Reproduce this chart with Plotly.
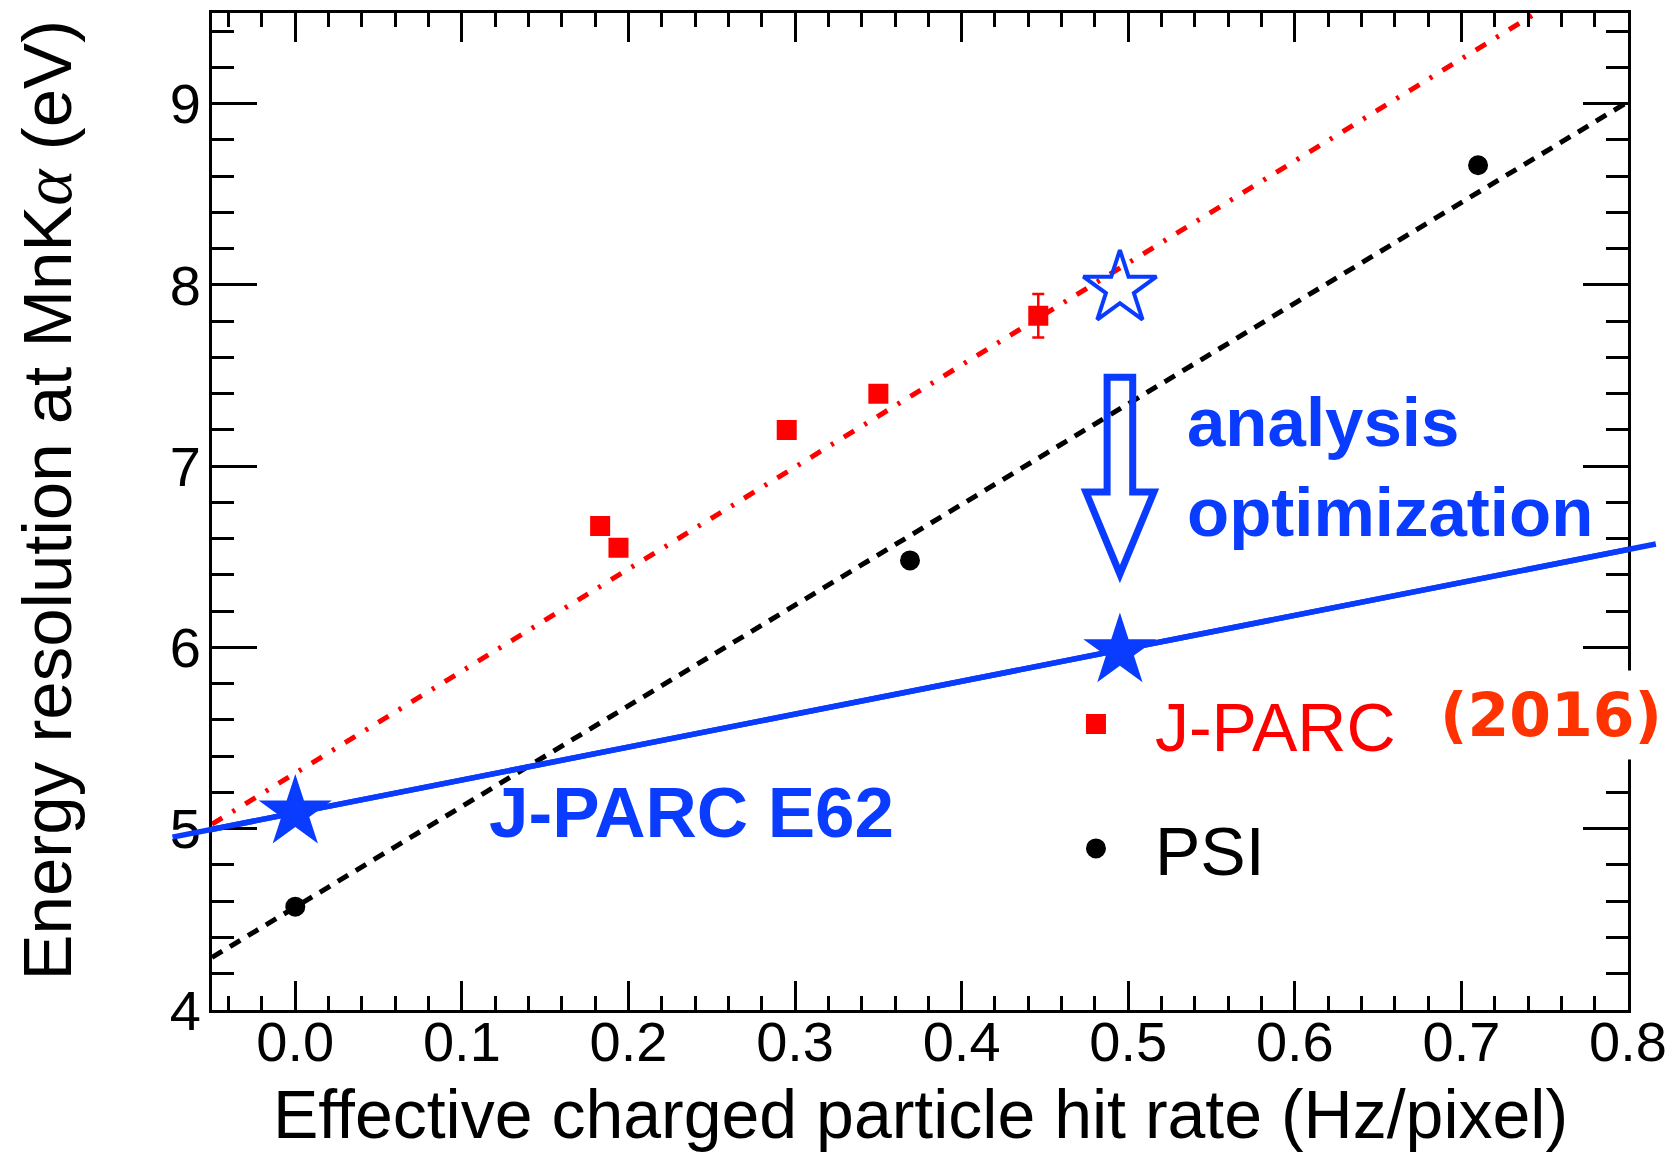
import plotly.graph_objects as go

# ---------------- data ----------------
# J-PARC (2016) measurements
jparc_x = [0.183, 0.194, 0.295, 0.350, 0.446]
jparc_y = [6.67, 6.55, 7.20, 7.40, 7.83]
jparc_err = [0.0, 0.0, 0.0, 0.0, 0.12]

# PSI measurements
psi_x = [0.0, 0.369, 0.710]
psi_y = [4.57, 6.48, 8.66]

# linear trend lines
psi_fit_x = [-0.05, 0.80]
psi_fit_y = [4.29, 9.01]
jparc_fit_x = [-0.05, 0.80]
jparc_fit_y = [5.025, 9.81]
e62_fit_x = [-0.074, 0.30, 0.817]
e62_fit_y = [4.953, 5.632, 6.571]

# J-PARC E62 expectations (stars)
e62_x = [0.0, 0.495]
e62_y = [5.09, 5.98]
before_x = [0.495]
before_y = [7.98]

# "analysis optimization" arrow: x position, top / head start / tip (y)
arrow_x = 0.495
arrow_y = [7.491, 6.857, 6.405]

# axes
x_range = [-0.05, 0.8]
y_range = [4.0, 9.5]
x_tick_vals = [0.0, 0.1, 0.2, 0.3, 0.4, 0.5, 0.6, 0.7, 0.8]
x_tick_text = ["0.0", "0.1", "0.2", "0.3", "0.4", "0.5", "0.6", "0.7", "0.8"]
y_tick_vals = [4, 5, 6, 7, 8, 9]
y_tick_text = ["4", "5", "6", "7", "8", "9"]
x_minor_vals = [round(-0.04 + 0.02 * i, 2) for i in range(43)]
y_minor_vals = [round(4.2 + 0.2 * i, 1) for i in range(27)]

BLUE = "#0a3cff"
RED = "#ff0000"
FONT = "Liberation Sans"

fig = go.Figure()

fig.add_trace(go.Scatter(
    x=psi_fit_x, y=psi_fit_y, mode="lines",
    line=dict(color="black", width=5, dash="12px,9px"),
    showlegend=False, hoverinfo="skip"))
fig.add_trace(go.Scatter(
    x=jparc_fit_x, y=jparc_fit_y, mode="lines",
    line=dict(color=RED, width=5, dash="12px,12px,3px,12px"),
    showlegend=False, hoverinfo="skip"))
fig.add_trace(go.Scatter(
    x=e62_fit_x, y=e62_fit_y, mode="lines",
    line=dict(color=BLUE, width=5.5),
    showlegend=False, hoverinfo="skip"))

fig.add_trace(go.Scatter(
    x=jparc_x, y=jparc_y, mode="markers",
    name='<span style="color:#ff0000">J-PARC</span>',
    marker=dict(symbol="square", size=16, color=RED, line=dict(color=RED, width=4)),
    error_y=dict(type="data", array=jparc_err, color=RED, thickness=2.5, width=6),
    legendgroup="a"))
fig.add_trace(go.Scatter(
    x=psi_x, y=psi_y, mode="markers", name="PSI",
    marker=dict(symbol="circle", size=16, color="black", line=dict(color="black", width=4)),
    legendgroup="b"))

fig.add_trace(go.Scatter(
    x=e62_x, y=e62_y, mode="markers",
    marker=dict(symbol="star", size=55, color=BLUE, line=dict(width=0)),
    showlegend=False))
fig.add_trace(go.Scatter(
    x=before_x, y=before_y, mode="markers",
    marker=dict(symbol="star-open", size=55, color=BLUE, line=dict(color=BLUE, width=4)),
    showlegend=False))

# parts of the blue E62 line that run past the frame: annotation arrows
# (head inside the axis range, tail at the line's outer ends)
for k in (0, 2):
    fig.add_annotation(
        x=e62_fit_x[1], y=e62_fit_y[1], ax=e62_fit_x[k], ay=e62_fit_y[k],
        xref="x", yref="y", axref="x", ayref="y", text=" ",
        font=dict(size=1), borderpad=0,
        showarrow=True, arrowhead=0, arrowwidth=5.5, arrowcolor=BLUE,
        standoff=0, startstandoff=0)

# hollow arrow
top, head, tip = arrow_y
sw, hw = 12.8, 34
path = (f"M {-sw},{top} L {sw},{top} L {sw},{head} L {hw},{head} "
        f"L 0,{tip} L {-hw},{head} L {-sw},{head} Z")
fig.add_shape(type="path", path=path, xref="x", yref="y",
              xsizemode="pixel", xanchor=arrow_x,
              line=dict(color=BLUE, width=7), fillcolor="rgba(0,0,0,0)")

# texts
fig.add_annotation(x=0.115, y=5.09, xref="x", yref="y", text="J-PARC E62",
                   showarrow=False, xanchor="left", yanchor="middle",
                   font=dict(family=FONT, size=71, color=BLUE, weight="bold"))
fig.add_annotation(x=0.534, y=6.995, xref="x", yref="y",
                   text="analysis<br>optimization", align="left",
                   showarrow=False, xanchor="left", yanchor="middle",
                   font=dict(family=FONT, size=69, color=BLUE, weight="bold"))
fig.add_annotation(x=0.681, y=5.627, xref="x", yref="y", text="(2016)",
                   showarrow=False, xanchor="left", yanchor="middle",
                   bgcolor="white", borderpad=9,
                   font=dict(family="DejaVu Sans", size=60, color="#ff3300", weight="bold"))

# axis titles
fig.add_annotation(x=0.5, y=0, xref="paper", yref="paper",
                   text="Effective charged particle hit rate (Hz/pixel)",
                   showarrow=False, xanchor="center", yanchor="middle", yshift=-104,
                   font=dict(family=FONT, size=68, color="black"))
fig.add_annotation(x=0, y=0.5, xref="paper", yref="paper",
                   text='Energy resolution at MnK<span style="font-family:Liberation Serif"><i>α</i></span> (eV)',
                   showarrow=False, textangle=-90, xanchor="center", yanchor="middle",
                   xshift=-164.6, yshift=11.5,
                   font=dict(family=FONT, size=69, color="black"))

axis_common = dict(showline=True, linecolor="black", linewidth=3, mirror="ticks",
                   ticks="inside", tickcolor="black", tickwidth=3,
                   showgrid=False, zeroline=False, automargin=False,
                   tickfont=dict(family=FONT, size=56, color="black"))

fig.update_xaxes(range=x_range, tickmode="array", tickvals=x_tick_vals, ticktext=x_tick_text,
                 ticklen=29, ticklabelstandoff=-19,
                 minor=dict(tickmode="array", tickvals=x_minor_vals, ticks="inside",
                            ticklen=14, tickwidth=2.5, tickcolor="black", showgrid=False),
                 **axis_common)
fig.update_yaxes(range=y_range, tickmode="array", tickvals=y_tick_vals, ticktext=y_tick_text,
                 ticklen=45, ticklabelstandoff=-3,
                 minor=dict(tickmode="array", tickvals=y_minor_vals, ticks="inside",
                            ticklen=22, tickwidth=2.5, tickcolor="black", showgrid=False),
                 **axis_common)

fig.update_layout(
    width=1674, height=1152,
    margin=dict(l=212, r=46, t=13, b=142, pad=0),
    paper_bgcolor="white", plot_bgcolor="white",
    showlegend=True,
    legend=dict(x=0.5826, y=0.3377, xanchor="left", yanchor="top",
                font=dict(family=FONT, size=68, color="black"),
                bgcolor="rgba(0,0,0,0)", itemwidth=108,
                traceorder="grouped", tracegroupgap=33),
)

fig.write_html("out.html")
